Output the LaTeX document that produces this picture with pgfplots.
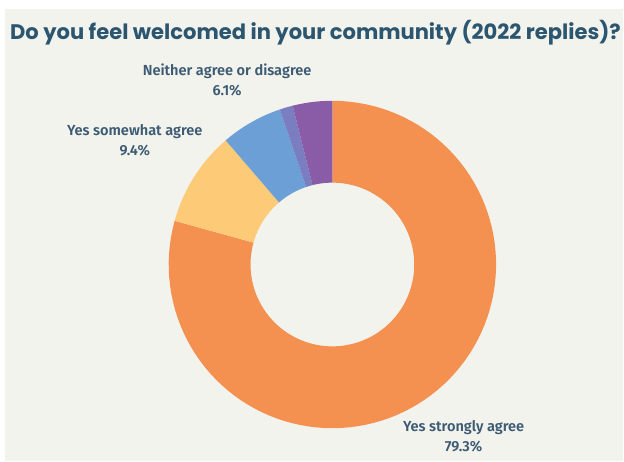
\documentclass[border=0pt]{standalone}
\usepackage{pgfplots}
\pgfplotsset{compat=1.18}
\usepackage{fontspec}
\setmainfont{Fira Sans}
\newfontfamily\titlefont{Poppins}[UprightFont=* Bold]
\newfontfamily\labelfont{Fira Sans}[UprightFont=* SemiBold]
\definecolor{bg}{HTML}{F3F3EE}
\definecolor{cOrange}{HTML}{F59150}
\definecolor{cYellow}{HTML}{FDCA78}
\definecolor{cBlue}{HTML}{6B9FD6}
\definecolor{cSlate}{HTML}{7A7DC0}
\definecolor{cPurple}{HTML}{8A5BA6}
\definecolor{titleC}{HTML}{2C5670}
\definecolor{labelC}{HTML}{3D5C74}
% slice: #1 cumulative percent before, #2 percent, #3 colour
\newcommand\slice[3]{%
  \addplot[fill=#3, draw=none, domain=0:201, samples=202, variable=\t]
   ({333+ifthenelse(\t<100.5,164,82)*cos(90-3.6*(#1+ifthenelse(\t<100.5,\t/100,(201-\t)/100)*#2))},
    {197+ifthenelse(\t<100.5,164,82)*sin(90-3.6*(#1+ifthenelse(\t<100.5,\t/100,(201-\t)/100)*#2))});
}
\begin{document}
\begin{tikzpicture}
\begin{axis}[
  width=624pt, height=462pt, scale only axis,
  xmin=0, xmax=624, ymin=0, ymax=462,
  hide axis, clip=false]
\fill[white] (axis cs:0,0) rectangle (axis cs:624,462);
\fill[bg] (axis cs:5,0) rectangle (axis cs:624,453);
% values (percent): 79.3, 9.4, 6.1, 1.3, 3.9
\slice{0}{79.3}{cOrange}
\slice{79.3}{9.4}{cYellow}
\slice{88.7}{6.1}{cBlue}
\slice{94.8}{1.3}{cSlate}
\slice{96.1}{3.9}{cPurple}
\node[font=\titlefont\fontsize{21.1}{24}\selectfont, text=titleC, anchor=center] at (axis cs:316,429) {Do you feel welcomed in your community (2022 replies)?};
\node[font=\labelfont\fontsize{14.6}{20}\selectfont, text=labelC, align=center] at (axis cs:227.5,381.5) {Neither agree or disagree\\6.1\%};
\node[font=\labelfont\fontsize{14.6}{20}\selectfont, text=labelC, align=center] at (axis cs:135,321.5) {Yes somewhat agree\\9.4\%};
\node[font=\labelfont\fontsize{14.6}{20}\selectfont, text=labelC, align=center] at (axis cs:464.5,25) {Yes strongly agree\\79.3\%};
\end{axis}
\end{tikzpicture}
\end{document}
